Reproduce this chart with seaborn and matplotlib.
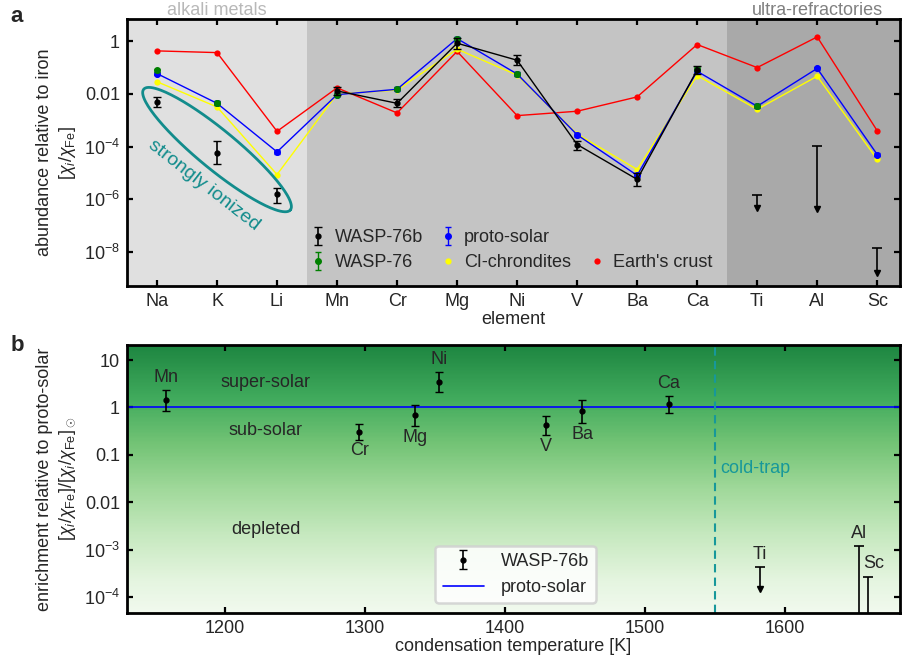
import numpy as np
import pandas as pd
import seaborn as sns
import matplotlib.pyplot as plt
from matplotlib.transforms import blended_transform_factory
from matplotlib.lines import Line2D

# panel a: abundances relative to iron
elements = ["Na", "K", "Li", "Mn", "Cr", "Mg", "Ni", "V", "Ba", "Ca", "Ti", "Al", "Sc"]
earth_crust = [0.43, 0.37, 3.8e-4, 0.017, 1.9e-3, 0.41, 1.5e-3, 2.2e-3, 7.7e-3, 0.75, 0.10, 1.46, 4.0e-4]
proto_solar = [0.059, 4.4e-3, 6.3e-5, 9.4e-3, 0.015, 1.26, 0.057, 2.8e-4, 8.1e-6, 0.072, 3.4e-3, 0.093, 5.0e-5]
ci_chondrites = [0.029, 3.2e-3, 8.7e-6, 0.010, 0.014, 0.50, 0.052, 3.0e-4, 1.35e-5, 0.050, 2.6e-3, 0.047, 3.3e-5]

star_elements = ["Na", "K", "Mn", "Cr", "Mg", "Ni", "Ca", "Ti"]
star_abund = [0.078, 4.4e-3, 9.5e-3, 0.016, 1.19, 0.057, 0.088, 3.4e-3]

planet_elements = ["Na", "K", "Li", "Mn", "Cr", "Mg", "Ni", "V", "Ba", "Ca"]
planet_abund = [4.9e-3, 5.9e-5, 1.55e-6, 0.013, 4.4e-3, 0.84, 0.19, 1.2e-4, 5.7e-6, 0.081]
planet_lo = [3.1e-3, 2.2e-5, 7.5e-7, 9.2e-3, 3.1e-3, 0.51, 0.12, 7.7e-5, 3.1e-6, 0.057]
planet_hi = [7.4e-3, 1.7e-4, 2.8e-6, 0.019, 6.3e-3, 1.3, 0.29, 1.6e-4, 9.6e-6, 0.114]

limit_elements = ["Ti", "Al", "Sc"]
limit_top = [1.45e-6, 1.1e-4, 1.45e-8]
limit_floor = [4.5e-7, 4.2e-7, 1.6e-9]

# panel b: enrichment vs condensation temperature
cond_elements = ["Mn", "Cr", "Mg", "Ni", "V", "Ba", "Ca"]
cond_temp = [1158, 1296, 1336, 1353, 1429, 1455, 1517]
enrich = [1.43, 0.31, 0.69, 3.5, 0.42, 0.85, 1.2]
enrich_lo = [0.85, 0.21, 0.41, 2.1, 0.26, 0.46, 0.78]
enrich_hi = [2.29, 0.44, 1.12, 5.5, 0.65, 1.45, 1.76]
label_side = ["above", "below", "below", "above", "below", "below", "above"]

lim_cond_elements = ["Ti", "Al", "Sc"]
lim_cond_temp = [1582, 1653, 1659]
lim_enrich_top = [4.3e-4, 1.17e-3, 2.7e-4]
lim_enrich_floor = [1.5e-4, 1e-6, 1e-6]

sns.set_style("ticks")
plt.rcParams["font.family"] = ["Liberation Sans", "DejaVu Sans"]
plt.rcParams["mathtext.fontset"] = "custom"
plt.rcParams["mathtext.rm"] = "Liberation Sans"
plt.rcParams["mathtext.it"] = "Liberation Sans:italic"
plt.rcParams["font.size"] = 13

teal = "#128c8c"
fig = plt.figure(figsize=(9.02, 6.61), dpi=100)
ax1 = fig.add_axes([0.1408, 0.5673, 0.857, 0.4035])
ax2 = fig.add_axes([0.1408, 0.0726, 0.857, 0.4054])

x_pos = np.arange(len(elements))
idx = {e: i for i, e in enumerate(elements)}

# ---- panel a ----
ax1.set_yscale("log")
ax1.axvspan(-0.5, 2.5, color="#e0e0e0", lw=0, zorder=0)
ax1.axvspan(2.5, 9.5, color="#c4c4c4", lw=0, zorder=0)
ax1.axvspan(9.5, 12.5, color="#a9a9a9", lw=0, zorder=0)

ref = pd.DataFrame({
    "x": np.tile(x_pos, 3),
    "abund": earth_crust + ci_chondrites + proto_solar,
    "source": ["Earth's crust"] * 13 + ["CI-chrondites"] * 13 + ["proto-solar"] * 13,
})
sns.lineplot(data=ref, x="x", y="abund", hue="source",
             hue_order=["Earth's crust", "CI-chrondites", "proto-solar"],
             palette={"Earth's crust": "red", "CI-chrondites": "yellow", "proto-solar": "blue"},
             marker="o", markersize=4.5, markeredgewidth=0, lw=1, legend=False, ax=ax1)

ps = np.array(proto_solar)
h_proto = ax1.errorbar(x_pos, ps, yerr=[ps * 0.15, ps * 0.18], fmt="o", color="blue",
                       ms=4, capsize=2.5, elinewidth=1, label="proto-solar", zorder=3)

sx = [idx[e] for e in star_elements]
sa = np.array(star_abund)
h_star = ax1.errorbar(sx, sa, yerr=[sa * 0.15, sa * 0.18], fmt="o", color="green",
                      ms=4, capsize=2.5, elinewidth=1, label="WASP-76", zorder=4)

px = [idx[e] for e in planet_elements]
pa = np.array(planet_abund)
ax1.plot(px[3:], pa[3:], color="black", lw=1, zorder=4)
h_planet = ax1.errorbar(px, pa, yerr=[pa - np.array(planet_lo), np.array(planet_hi) - pa],
                        fmt="o", color="black", ms=3.5, capsize=3, elinewidth=1.2,
                        label="WASP-76b", zorder=5)

lx = [idx[e] for e in limit_elements]
ax1.vlines(lx, limit_floor, limit_top, color="black", lw=1.2, zorder=5)
ax1.plot(lx, limit_top, ls="none", marker="_", ms=7, mew=1.2, color="black", zorder=5)
ax1.plot(lx, limit_floor, ls="none", marker="v", ms=5, color="black", zorder=5)

ax1.set_xlim(-0.5, 12.38)
ax1.set_ylim(5.1e-10, 6.8)
ax1.set_xticks(x_pos, elements)
ax1.set_yticks([1, 1e-2, 1e-4, 1e-6, 1e-8],
               ["1", "0.01", r"$10^{-4}$", r"$10^{-6}$", r"$10^{-8}$"])
ax1.yaxis.set_minor_locator(plt.NullLocator())
ax1.set_xlabel("element", labelpad=1)
ax1.set_ylabel("abundance relative to iron\n" + r"[$\chi_i/\chi_{\rm Fe}$]", linespacing=1.3)

bt = blended_transform_factory(ax1.transData, ax1.transAxes)
ax1.text(1.0, 1.003, "alkali metals", transform=bt, ha="center", va="bottom",
         color="#b8b8b8", fontsize=13)
ax1.text(11.0, 1.003, "ultra-refractories", transform=bt, ha="center", va="bottom",
         color="#808080", fontsize=13)

# "strongly ionized" ellipse, traced in category / decade units
t = np.linspace(0, 2 * np.pi, 200)
th = np.deg2rad(39.5)
u = 95 * np.cos(t) * np.cos(th) - 19.5 * np.sin(t) * np.sin(th)
v = 95 * np.cos(t) * np.sin(th) + 19.5 * np.sin(t) * np.cos(th)
ax1.plot(1.0 + u / 60.0, 7.7e-5 * 10 ** (-v / 26.375), color=teal, lw=2, zorder=6)
ax1.text(0.775, 3.5e-6, "strongly ionized", rotation=-38, rotation_mode="anchor",
         ha="center", va="center", color=teal, fontsize=14, zorder=6)

blank = Line2D([], [], ls="none")
h_ci = Line2D([], [], ls="none", marker="o", color="yellow", ms=4.5, mew=0)
h_earth = Line2D([], [], ls="none", marker="o", color="red", ms=4.5, mew=0)
ax1.legend([h_planet, h_star, h_proto, h_ci, blank, h_earth],
           ["WASP-76b", "WASP-76", "proto-solar", "CI-chrondites", "", "Earth's crust"],
           ncol=3, loc="lower left", bbox_to_anchor=(0.238, 0.056), frameon=False,
           borderaxespad=0, borderpad=0, handlelength=0.8, handletextpad=0.5,
           columnspacing=1.0, labelspacing=0.45, fontsize=13)

# ---- panel b ----
ax2.set_yscale("log")
ax2.set_xlim(1130, 1682)
ax2.set_ylim(4.6e-5, 20.7)
ax2.set_autoscale_on(False)
grad = np.linspace(0.04, 0.77, 256).reshape(-1, 1)
ax2.imshow(grad, origin="lower", cmap="Greens", vmin=0, vmax=1, extent=(0, 1, 0, 1),
           transform=ax2.transAxes, aspect="auto", zorder=0)

h_line = ax2.axhline(1, color="blue", lw=1.2, zorder=2, label="proto-solar")
ax2.axvline(1550, color="#17989a", lw=1.5, ls=(0, (4, 2.5)), zorder=2)
ax2.text(1553.5, 0.052, "cold-trap", color="#17989a", ha="left", va="center", fontsize=13)

en = np.array(enrich)
h_b = ax2.errorbar(cond_temp, en, yerr=[en - np.array(enrich_lo), np.array(enrich_hi) - en],
                   fmt="o", color="black", ms=3.5, capsize=3, elinewidth=1.2,
                   label="WASP-76b", zorder=4)
for el, tc, lo, hi, side in zip(cond_elements, cond_temp, enrich_lo, enrich_hi, label_side):
    if side == "above":
        ax2.annotate(el, (tc, hi), xytext=(0, 3), textcoords="offset points",
                     ha="center", va="bottom", fontsize=13)
    else:
        ax2.annotate(el, (tc, lo), xytext=(0, -2), textcoords="offset points",
                     ha="center", va="top", fontsize=13)

ax2.vlines(lim_cond_temp, lim_enrich_floor, lim_enrich_top, color="black", lw=1.2, zorder=4)
ax2.plot(lim_cond_temp, lim_enrich_top, ls="none", marker="_", ms=7, mew=1.2,
         color="black", zorder=4)
ax2.plot(lim_cond_temp[0], lim_enrich_floor[0], marker="v", ms=5, color="black", zorder=4)
for el, tc, top in zip(lim_cond_elements, lim_cond_temp, lim_enrich_top):
    if el == "Sc":
        ax2.annotate(el, (tc, top), xytext=(-3, 3), textcoords="offset points",
                     ha="left", va="bottom", fontsize=13)
    else:
        ax2.annotate(el, (tc, top), xytext=(0, 3), textcoords="offset points",
                     ha="center", va="bottom", fontsize=13)

ax2.text(1229, 3.4, "super-solar", ha="center", va="center", fontsize=13)
ax2.text(1229, 0.33, "sub-solar", ha="center", va="center", fontsize=13)
ax2.text(1229, 2.6e-3, "depleted", ha="center", va="center", fontsize=13)

ax2.set_xticks([1200, 1300, 1400, 1500, 1600])
ax2.set_yticks([10, 1, 0.1, 0.01, 1e-3, 1e-4],
               ["10", "1", "0.1", "0.01", r"$10^{-3}$", r"$10^{-4}$"])
ax2.yaxis.set_minor_locator(plt.NullLocator())
ax2.set_xlabel("condensation temperature [K]", labelpad=1)
ax2.set_ylabel("enrichment relative to proto-solar\n"
               + r"[$\chi_i/\chi_{\rm Fe}$]/[$\chi_i/\chi_{\rm Fe}$]$_\odot$", linespacing=1.3)
leg = ax2.legend([h_b, h_line], ["WASP-76b", "proto-solar"], loc="lower left",
                 bbox_to_anchor=(0.399, 0.037), borderaxespad=0, handlelength=2.3,
                 handletextpad=0.9, fontsize=13, framealpha=0.85, labelspacing=0.5)
leg.get_frame().set_linewidth(1.8)
leg.get_frame().set_edgecolor("#d0d0d0")

for ax in (ax1, ax2):
    for s in ax.spines.values():
        s.set_linewidth(2)
        s.set_color("black")
        s.set_visible(True)
    ax.tick_params(which="both", direction="in", top=True, right=True, length=4,
                   width=1.6, color="black", labelsize=13, pad=5)

fig.text(0.012, 0.975, "a", fontsize=16, fontweight="bold", va="center")
fig.text(0.012, 0.478, "b", fontsize=16, fontweight="bold", va="center")

fig.savefig("out.png", dpi=100)
